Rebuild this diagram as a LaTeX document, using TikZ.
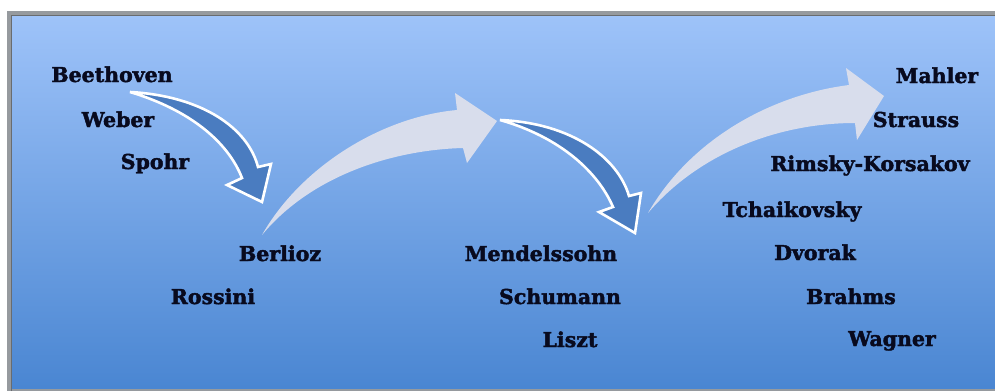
\documentclass[tikz,border=0pt]{standalone}
\usepackage{fontspec}
\setmainfont{DejaVu Serif}
\newfontfamily\namefont[BoldFeatures={FakeBold=2}]{DejaVu Serif}
\definecolor{namecol}{RGB}{8,10,30}
\definecolor{bgtop}{RGB}{158,195,249}
\definecolor{bgbot}{RGB}{74,134,210}
\definecolor{framecol}{RGB}{150,154,158}
\definecolor{pale}{RGB}{216,221,236}
\definecolor{bluearrow}{RGB}{74,124,192}
\tikzset{
  composer/.style={font=\namefont\fontsize{20.5}{24}\selectfont\bfseries, text=namecol, anchor=base, inner sep=0pt},
  palearrow/.style={fill=pale, draw=none},
  bluearr/.style={fill=bluearrow, draw=white, line width=2.6pt, line join=miter, miter limit=6},
}
\begin{document}
\begin{tikzpicture}[x=1pt,y=-1pt]
\useasboundingbox (0,0) rectangle (995,391);
% frame
\fill[white] (0,0) rectangle (995,391);
\fill[framecol] (7,11) rectangle (995,391);
\shade[top color=bgtop, bottom color=bgbot] (11,15) rectangle (995,388);
\draw[color=framecol!70!black, line width=0.8pt] (11.4,391) -- (11.4,15.4) -- (995,15.4);
% pale arrows
\path[palearrow] (262,235) .. controls (300,168) and (380,117) .. (457,110)
  -- (455,93) -- (497,121) -- (467,163) -- (463,148)
  .. controls (390,150) and (310,177) .. cycle;
\path[palearrow] (648,213) .. controls (690,140) and (770,95) .. (849,85)
  -- (846,68) -- (884,96) -- (857,140) -- (855,123)
  .. controls (780,123) and (700,152) .. cycle;
% blue arrows
\path[bluearr] (130,92) .. controls (202,96) and (248,128) .. (258,167)
  -- (271,164) -- (262,202) -- (227,185) -- (242,178)
  .. controls (228,142) and (190,110) .. cycle;
\path[bluearr] (500,120) .. controls (572,123) and (618,158) .. (629,196)
  -- (641,193) -- (635,233) -- (599,212) -- (613,207)
  .. controls (598,172) and (560,137) .. cycle;
% names
\node[composer] (beethoven) at (112,82) {Beethoven};
\node[composer] (weber) at (118,127) {Weber};
\node[composer] (spohr) at (155,169) {Spohr};
\node[composer] (berlioz) at (280,261) {Berlioz};
\node[composer] (rossini) at (213,304) {Rossini};
\node[composer] (mendelssohn) at (541,261) {Mendelssohn};
\node[composer] (schumann) at (560,304) {Schumann};
\node[composer] (liszt) at (570,347) {Liszt};
\node[composer] (mahler) at (937,83) {Mahler};
\node[composer] (strauss) at (916,127) {Strauss};
\node[composer] (rimsky) at (870,171) {Rimsky-Korsakov};
\node[composer] (tchaikovsky) at (792,217) {Tchaikovsky};
\node[composer] (dvorak) at (815,260) {Dvorak};
\node[composer] (brahms) at (851,304) {Brahms};
\node[composer] (wagner) at (892,346) {Wagner};
\end{tikzpicture}
\end{document}
